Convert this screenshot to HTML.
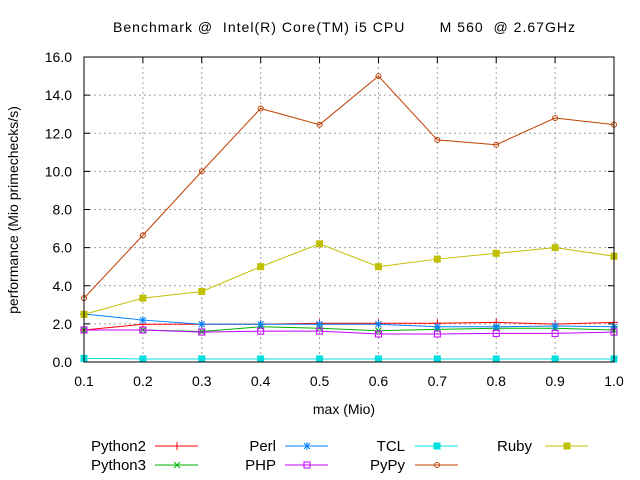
<!DOCTYPE html>
<html><head><meta charset="utf-8"><style>
body{margin:0;background:#fff;}
svg{display:block;font-family:"Liberation Sans",sans-serif;font-size:14px;}
</style></head><body>
<svg id="chart" width="640" height="480">
<text x="113" y="32" textLength="462" lengthAdjust="spacing" xml:space="preserve">Benchmark @  Intel(R) Core(TM) i5 CPU       M 560  @ 2.67GHz</text>
<text x="344" y="414" text-anchor="middle">max (Mio)</text>
<text transform="translate(18,210) rotate(-90)" text-anchor="middle">performance (Mio primechecks/s)</text>
<g id="grid"></g><g id="series"></g><g id="legend"></g>
<rect x="84" y="57" width="530" height="305" fill="none" stroke="#000"/>
</svg>
<script>
const xs=[0.1,0.2,0.3,0.4,0.5,0.6,0.7,0.8,0.9,1.0];
const yTicks=[0,2,4,6,8,10,12,14,16];
const names=["Python2","Python3","Perl","PHP","TCL","PyPy","Ruby"];
const python2=[1.68,1.98,1.98,1.98,2.03,2.03,2.03,2.08,1.99,2.08];
const python3=[1.68,1.68,1.6,1.85,1.77,1.64,1.71,1.77,1.77,1.68];
const perl=[2.52,2.2,1.98,1.98,1.98,1.98,1.85,1.85,1.89,1.85];
const php=[1.68,1.68,1.57,1.62,1.62,1.47,1.47,1.5,1.5,1.57];
const tcl=[0.19,0.16,0.16,0.16,0.16,0.16,0.16,0.16,0.16,0.16];
const pypy=[3.35,6.65,10.0,13.3,12.45,15.0,11.65,11.4,12.8,12.45];
const ruby=[2.5,3.35,3.7,5.0,6.2,5.0,5.4,5.7,6.0,5.55];
const NS="http://www.w3.org/2000/svg";
const X=v=>84+(v-0.1)/0.9*530, Y=v=>362-v/16*305;
function mk(t,a,p){const e=document.createElementNS(NS,t);for(const k in a)e.setAttribute(k,a[k]);p.appendChild(e);return e;}
const grid=document.getElementById('grid');
yTicks.forEach(t=>{const y=Y(t);
 if(t>0&&t<16){const g=mk('line',{x1:84,x2:614,y1:y,y2:y,stroke:'#a0a0a0','stroke-dasharray':'2,3'},grid);
 
 }
 const l=mk('text',{x:72,y:y+5,'text-anchor':'end'},grid);l.textContent=t.toFixed(1);
 
 
 mk('line',{x1:84,x2:90,y1:y,y2:y,stroke:'#000'},grid);mk('line',{x1:614,x2:608,y1:y,y2:y,stroke:'#000'},grid);});
xs.forEach(t=>{const x=X(t);
 if(t>0.1&&t<1){const g=mk('line',{x1:x,x2:x,y1:57,y2:362,stroke:'#a0a0a0','stroke-dasharray':'2,3'},grid);
 
 }
 const l=mk('text',{x:x,y:386,'text-anchor':'middle'},grid);l.textContent=t.toFixed(1);
 
 
 mk('line',{x1:x,x2:x,y1:362,y2:356,stroke:'#000'},grid);mk('line',{x1:x,x2:x,y1:57,y2:63,stroke:'#000'},grid);});
const defs=[[python2,'#ff0000','plus'],[python3,'#00b000','x'],[perl,'#0080ff','star'],[php,'#c000ff','sq'],[tcl,'#00e0e0','fsq'],[pypy,'#c04000','circ'],[ruby,'#c0c000','fsq']];
function marker(p,x,y,c,k){
 if(k==='plus'){mk('path',{d:`M${x-4},${y}h8M${x},${y-4}v8`,stroke:c},p);}
 else if(k==='x'){mk('path',{d:`M${x-3},${y-3}l6,6M${x-3},${y+3}l6,-6`,stroke:c},p);}
 else if(k==='star'){mk('path',{d:`M${x-4},${y}h8M${x},${y-4}v8M${x-3},${y-3}l6,6M${x-3},${y+3}l6,-6`,stroke:c},p);}
 else if(k==='sq'){mk('rect',{x:x-3,y:y-3,width:6,height:6,fill:'none',stroke:c},p);}
 else if(k==='fsq'){mk('rect',{x:x-3.5,y:y-3.5,width:7,height:7,fill:c},p);}
 else {mk('circle',{cx:x,cy:y,r:2.5,fill:'none',stroke:c},p);}
}
const ser=document.getElementById('series');
defs.forEach((d,i)=>{const g=mk('g',{},ser);
 
 
 mk('polyline',{points:d[0].map((v,j)=>X(xs[j])+','+Y(v)).join(' '),fill:'none',stroke:d[1]},g);
 d[0].forEach((v,j)=>marker(g,X(xs[j]),Y(v),d[1],d[2]));});
const leg=document.getElementById('legend');
const lpos=[[146,155,446],[146,155,465],[276,285,446],[276,285,465],[405,415,446],[405,415,465],[546,545,446]];
defs.forEach((d,i)=>{const [tx,lx,ty]=lpos[i];const g=mk('g',{},leg);
 
 
 const t=mk('text',{x:tx,y:ty+5,'text-anchor':'end','font-size':'15'},g);t.textContent=names[i];
 if(names[i]==='Ruby'){t.setAttribute('text-anchor','start');t.setAttribute('x',497);}
 mk('line',{x1:lx,x2:lx+43,y1:ty,y2:ty,stroke:d[1]},g);marker(g,lx+22,ty,d[1],d[2]);});
</script>
</body></html>
